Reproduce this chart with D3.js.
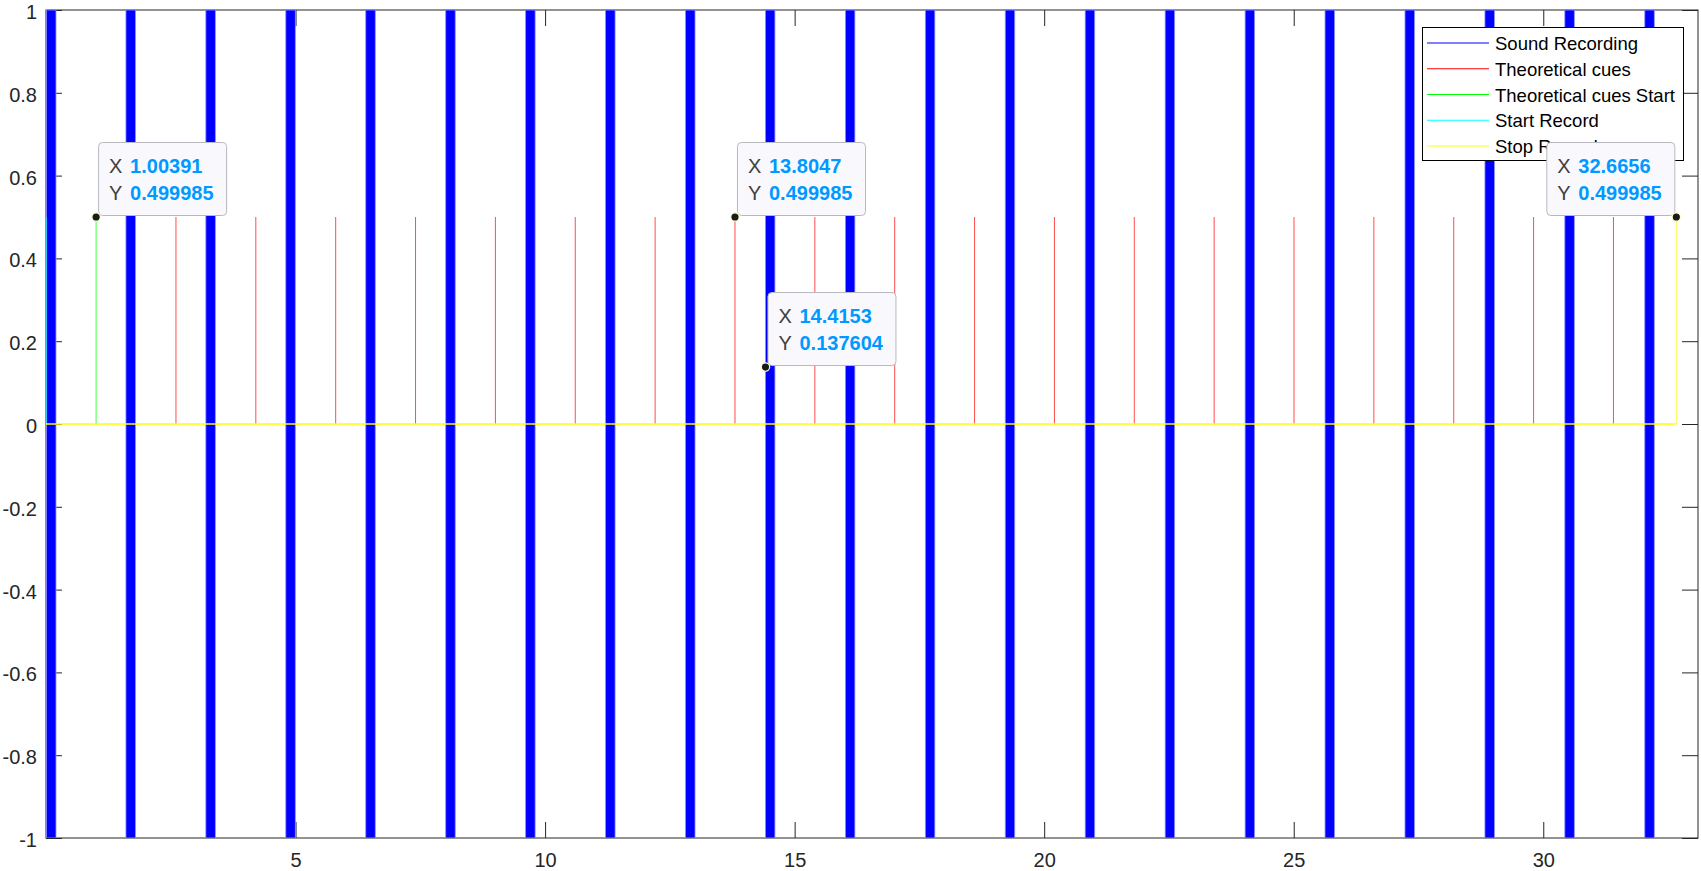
<!DOCTYPE html>
<html><head><meta charset="utf-8">
<script src="https://cdn.jsdelivr.net/npm/d3@7"></script>
<style>
body{margin:0;background:#fff;}
svg{display:block;font-family:"Liberation Sans",Arial,Helvetica,sans-serif;}
</style>
</head><body>
<svg id="chart" width="1701" height="871"></svg>
<script>
// ---------------- data ----------------
const burstOnsets  = [0.01, 1.602, 3.203, 4.805, 6.407, 8.009, 9.610, 11.212, 12.814, 14.415, 16.017,
                      17.619, 19.220, 20.822, 22.424, 24.026, 25.627, 27.229, 28.831, 30.432, 32.034];
const burstOffsets = [0.20, 1.792, 3.393, 4.995, 6.597, 8.199, 9.800, 11.402, 13.004, 14.605, 16.207,
                      17.809, 19.410, 21.012, 22.614, 24.216, 25.817, 27.419, 29.021, 30.622, 32.224];
const burstLow = -1, burstHigh = 1;
const cueTimes = [2.6040, 4.2041, 5.8042, 7.4043, 9.0044, 10.6045, 12.2046, 13.8047, 15.4048, 17.0049,
                  18.6050, 20.2051, 21.8052, 23.4053, 25.0054, 26.6055, 28.2056, 29.8057, 31.4058];
const cueStartTimes = [1.00391];
const recordStartTimes = [0];
const recordStopTimes = [32.6656];
const pulseHeight = 0.499985;
const xDomain = [0, 33.1];
const yDomain = [-1, 1];
const xTickValues = [5, 10, 15, 20, 25, 30];
const yTickValues = [-1, -0.8, -0.6, -0.4, -0.2, 0, 0.2, 0.4, 0.6, 0.8, 1];
const legendLabels = ["Sound Recording", "Theoretical cues", "Theoretical cues Start", "Start Record", "Stop Record"];
const datatipX = [1.00391, 13.8047, 14.4153, 32.6656];
const datatipY = [0.499985, 0.499985, 0.137604, 0.499985];
const datatipSide = ["right", "right", "right", "left"];

// ---------------- styles ----------------
const seriesColors = ["#0000ff", "#ff0000", "#00ff00", "#00ffff", "#ffff00"];
const plot = {left: 46, right: 1698, top: 10, bottom: 838};
const axisColor = "#262626";

const svg = d3.select("#chart");
const x = d3.scaleLinear().domain(xDomain).range([plot.left, plot.right]);
const y = d3.scaleLinear().domain(yDomain).range([plot.bottom, plot.top]);
const fmt = d => String(+d.toFixed(1));

// axes (drawn under data, MATLAB layer bottom)
const axG = svg.append("g");
axG.append("g").attr("transform", `translate(0,${plot.bottom})`)
  .call(d3.axisBottom(x).tickValues(xTickValues).tickFormat(fmt).tickSizeInner(-16).tickSizeOuter(0).tickPadding(15));
axG.append("g").attr("transform", `translate(0,${plot.top})`)
  .call(d3.axisTop(x).tickValues(xTickValues).tickFormat("").tickSizeInner(-16).tickSizeOuter(0));
const yAxisG = axG.append("g").attr("transform", `translate(${plot.left},0)`)
  .call(d3.axisLeft(y).tickValues(yTickValues).tickFormat(fmt).tickSizeInner(-16).tickSizeOuter(0).tickPadding(9));
axG.append("g").attr("transform", `translate(${plot.right},0)`)
  .call(d3.axisRight(y).tickValues(yTickValues).tickFormat("").tickSizeInner(-16).tickSizeOuter(0));
axG.selectAll(".domain").remove();
axG.selectAll(".tick line").attr("stroke", axisColor).attr("stroke-width", 1);
axG.selectAll(".tick text").attr("fill", axisColor).attr("font-size", 20)
  .attr("font-family", '"Liberation Sans",Arial,sans-serif');
yAxisG.selectAll(".tick text").attr("dy", "0.42em");
axG.append("rect").attr("x", plot.left).attr("y", plot.top)
  .attr("width", plot.right - plot.left).attr("height", plot.bottom - plot.top)
  .attr("fill", "none").attr("stroke", axisColor).attr("stroke-width", 1);

// data
svg.append("clipPath").attr("id", "clip").append("rect")
  .attr("x", plot.left).attr("y", plot.top).attr("width", plot.right - plot.left).attr("height", plot.bottom - plot.top);
const dg = svg.append("g").attr("clip-path", "url(#clip)");

// sound recording bursts
dg.selectAll("rect.burst").data(burstOnsets).join("rect").attr("class", "burst")
  .attr("x", (d) => x(d))
  .attr("width", (d, i) => x(burstOffsets[i]) - x(d))
  .attr("y", y(burstHigh)).attr("height", y(burstLow) - y(burstHigh))
  .attr("fill", seriesColors[0]).attr("stroke", "#8c8cff").attr("stroke-width", 0.8);

const line = d3.line().x(d => x(d[0])).y(d => y(d[1]));
function spikes(g, times, color, width, op) {
  g.selectAll(null).data(times).join("path")
    .attr("d", t => line([[t, 0], [t, pulseHeight]]))
    .attr("fill", "none").attr("stroke", color).attr("stroke-width", width).attr("stroke-opacity", op);
}
spikes(dg, cueTimes, seriesColors[1], 1, 0.7);
spikes(dg, cueStartTimes, seriesColors[2], 1, 0.75);
spikes(dg, recordStartTimes, seriesColors[3], 1.5, 0.8);
// stop record: baseline (covers all other baselines) then rising edge
dg.append("path").attr("d", line([[xDomain[0], 0], [recordStopTimes[0], 0]]))
  .attr("fill", "none").attr("stroke", seriesColors[4]).attr("stroke-width", 1.6);
spikes(dg, recordStopTimes, seriesColors[4], 1, 0.7);

// legend
const lg = svg.append("g");
const lgBox = {x: 1422, y: 27, w: 261, h: 133};
lg.append("rect").attr("x", lgBox.x + 0.5).attr("y", lgBox.y + 0.5).attr("width", lgBox.w).attr("height", lgBox.h)
  .attr("fill", "#fff").attr("stroke", "#000").attr("stroke-width", 1);
legendLabels.forEach((lab, i) => {
  const cy = 43 + i * 25.75;
  lg.append("line").attr("x1", 1427).attr("x2", 1489).attr("y1", cy).attr("y2", cy)
    .attr("stroke", seriesColors[i]).attr("stroke-width", 1);
  lg.append("text").attr("x", 1495).attr("y", cy + 7).attr("font-size", 18.5).attr("fill", "#000").text(lab);
});

// datatips
const tipW = 128, tipH = 73;
datatipX.forEach((dx, i) => {
  const px = x(dx), py = y(datatipY[i]);
  const left = datatipSide[i] === "right" ? px + 2 : px - 2 - tipW;
  const top = py - 2 - tipH;
  const g = svg.append("g");
  g.append("rect").attr("x", left + 0.5).attr("y", top + 0.5).attr("width", tipW).attr("height", tipH)
    .attr("rx", 4).attr("fill", "#f9f9fd").attr("stroke", "#b8b8c0").attr("stroke-width", 1);
  const rows = [["X", String(dx)], ["Y", String(datatipY[i])]];
  rows.forEach((r, k) => {
    const t = g.append("text").attr("x", left + 11).attr("y", top + 31 + k * 27).attr("font-size", 20);
    t.append("tspan").attr("fill", "#404040").text(r[0]);
    t.append("tspan").attr("x", left + 32).attr("fill", "#0099ff").attr("font-weight", "bold").text(r[1]);
  });
  g.append("circle").attr("cx", px).attr("cy", py).attr("r", 4.2)
    .attr("fill", "#1a1a1a").attr("stroke", "#ffffcc").attr("stroke-width", 1.2);
});
</script>
</body></html>
